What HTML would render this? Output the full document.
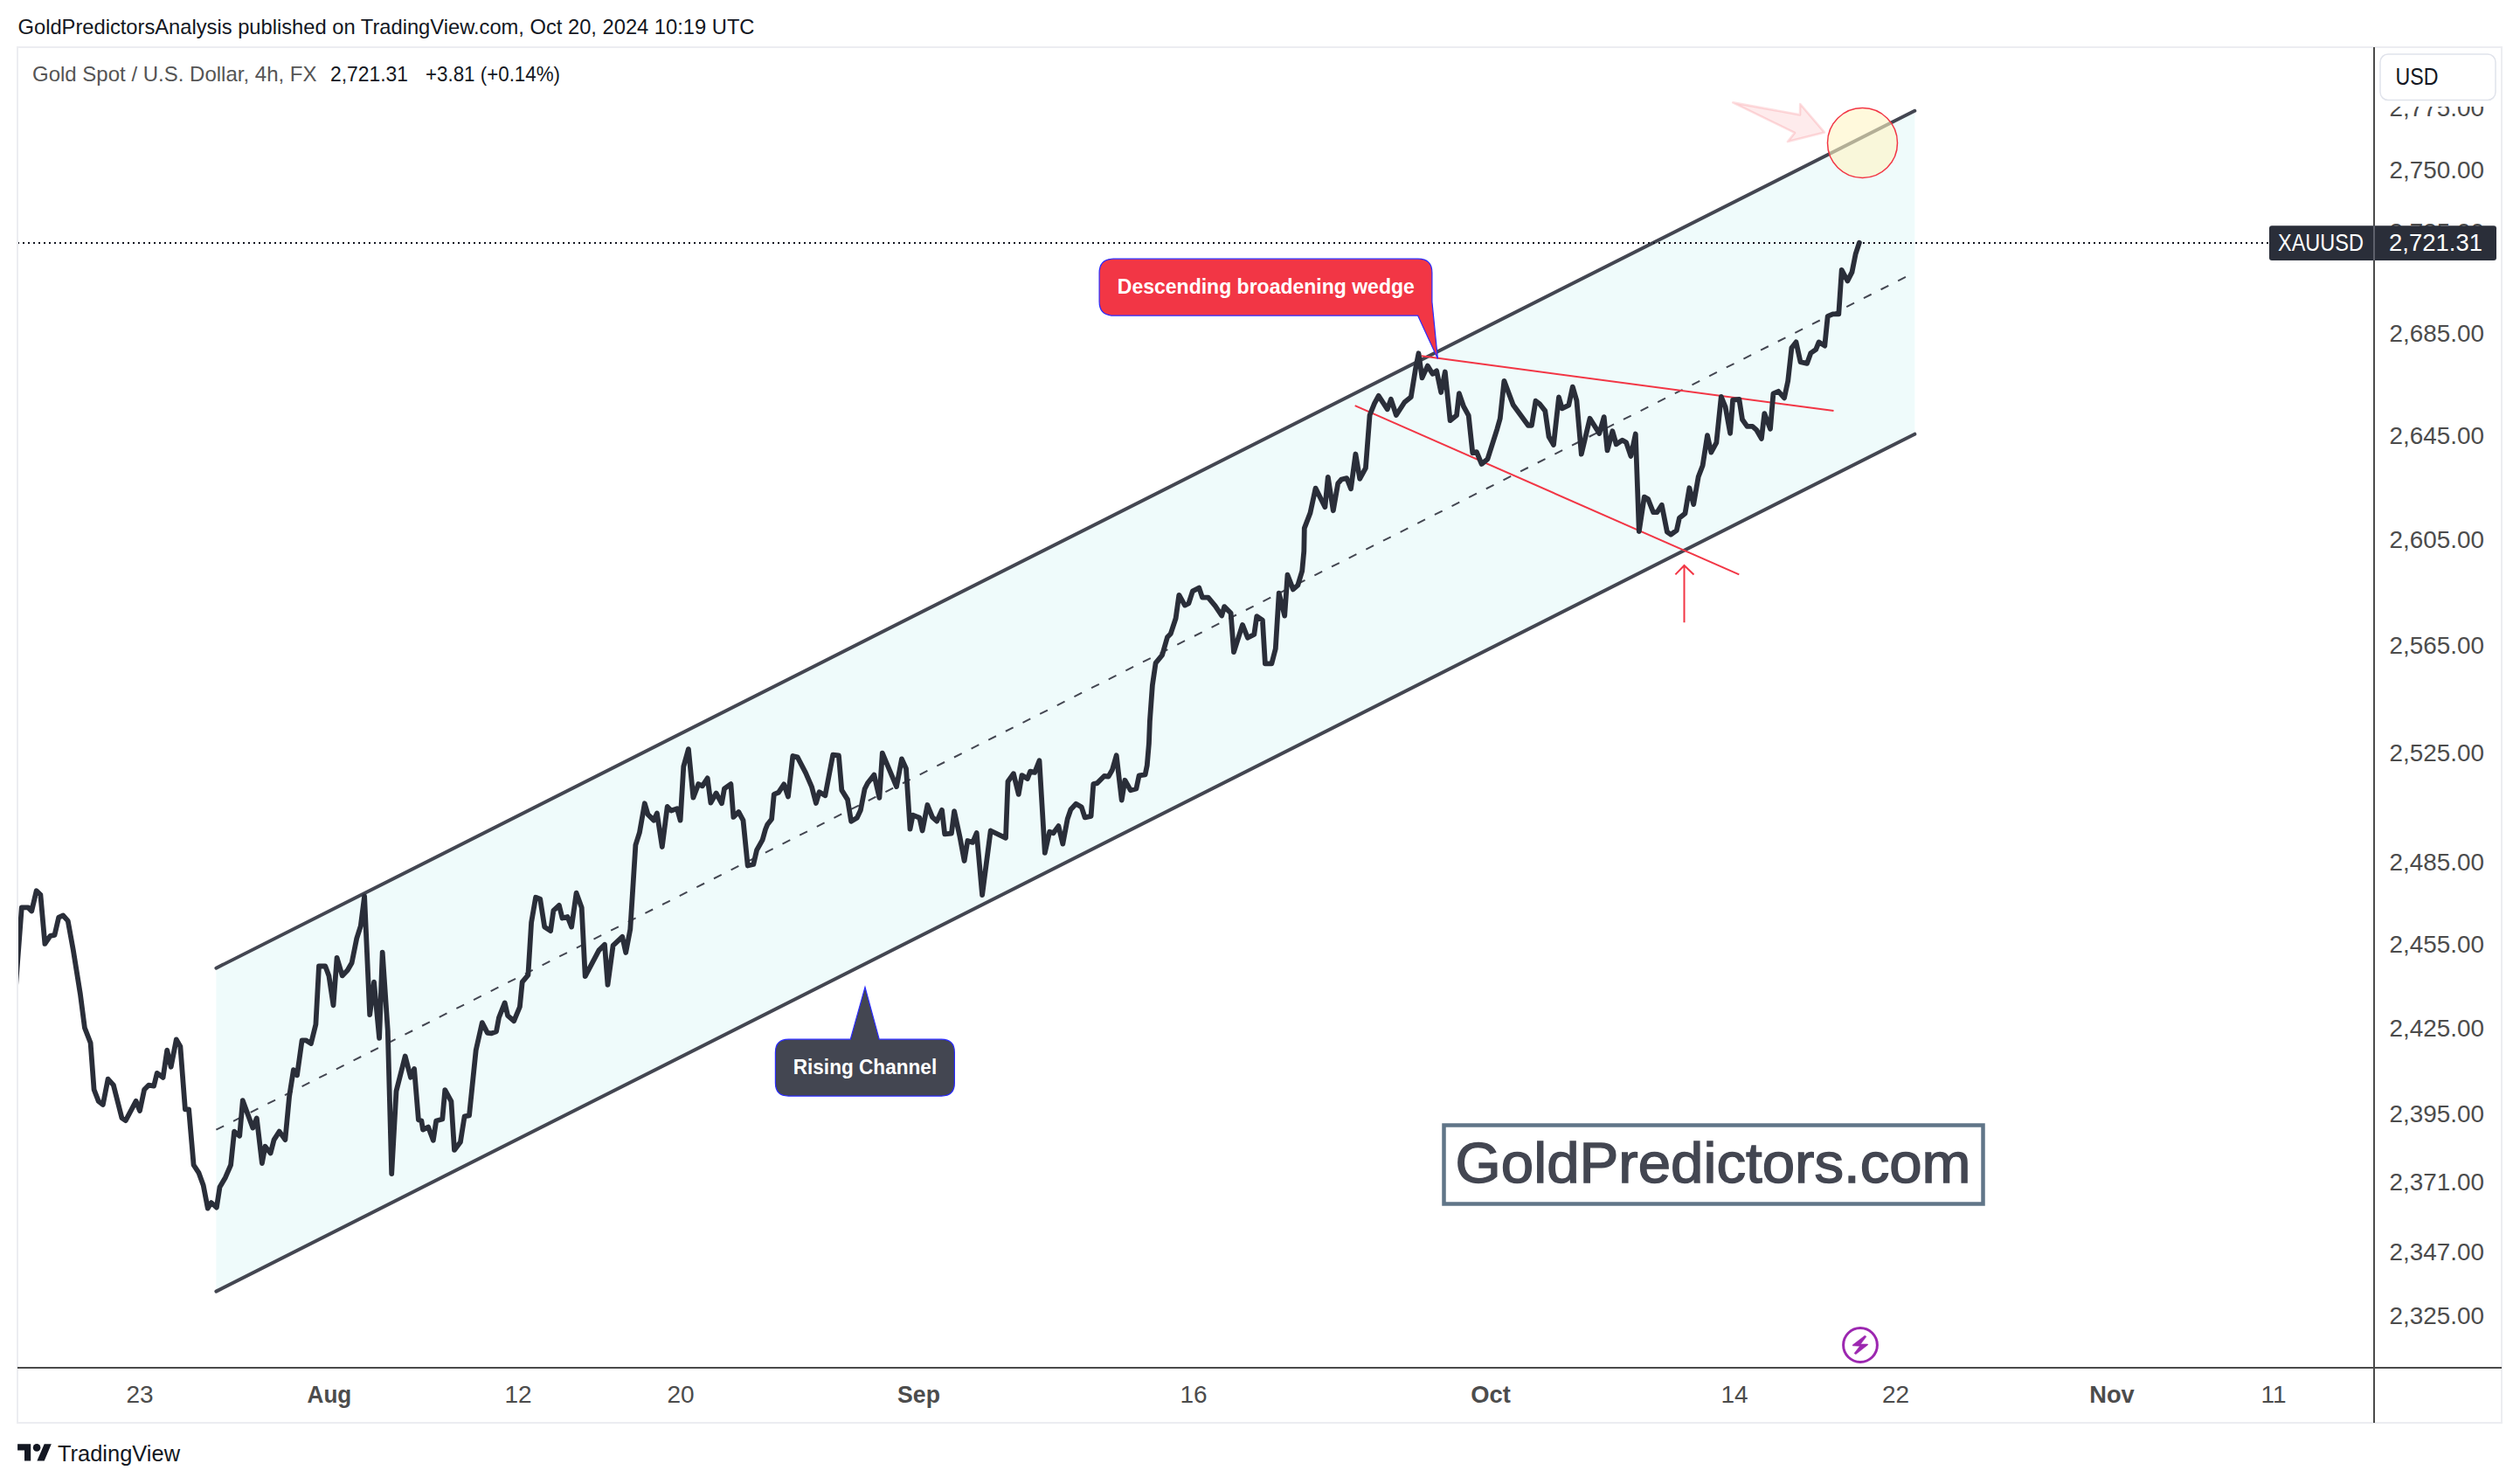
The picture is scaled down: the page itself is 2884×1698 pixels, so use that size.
<!DOCTYPE html><html><head><meta charset="utf-8"><title>XAUUSD chart</title>
<style>html,body{margin:0;padding:0;background:#fff;}svg{display:block;}text{font-family:"Liberation Sans", Arial, sans-serif;}</style></head><body>
<svg width="2884" height="1698" viewBox="0 0 2884 1698">
<rect x="0" y="0" width="2884" height="1698" fill="#ffffff"/>
<defs><clipPath id="pane"><rect x="21" y="55" width="2695" height="1509"/></clipPath><clipPath id="axc"><rect x="2718" y="122" width="144" height="1442"/></clipPath></defs>
<text x="20.5" y="39.2" font-size="24" fill="#131722" textLength="843" lengthAdjust="spacingAndGlyphs">GoldPredictorsAnalysis published on TradingView.com, Oct 20, 2024 10:19 UTC</text>
<rect x="20" y="54" width="2843" height="1574" fill="none" stroke="#ecedf1" stroke-width="2"/>
<g clip-path="url(#pane)">
<polygon points="247.4,1107.7 2191.3,126.8 2191.3,496.7 247.4,1477.6" fill="#effbfb"/>
<line x1="247.4" y1="1292.7" x2="2183.0" y2="315.9" stroke="#434651" stroke-width="2" stroke-dasharray="9.8 12.2"/>
<line x1="247.4" y1="1107.7" x2="2191.3" y2="126.8" stroke="#434651" stroke-width="4" stroke-linecap="round"/>
<line x1="247.4" y1="1477.6" x2="2191.3" y2="496.7" stroke="#434651" stroke-width="4" stroke-linecap="round"/>
<line x1="1626.7" y1="407.3" x2="2098.5" y2="470.1" stroke="#f23645" stroke-width="2"/>
<line x1="1550.7" y1="464.1" x2="1990.3" y2="657.4" stroke="#f23645" stroke-width="2"/>
<path d="M1927.5,712.2 V647 M1917.4,657.4 L1927.5,647 L1938.5,657.4" fill="none" stroke="#f23645" stroke-width="2"/>
<line x1="20" y1="278" x2="2597" y2="278" stroke="#131722" stroke-width="2" stroke-dasharray="2 4"/>
<polyline points="12.6,1200.0 24.8,1038.4 32.2,1038.4 36.2,1042.5 41.7,1019.2 46.4,1023.9 51.4,1079.9 57.5,1070.8 62.5,1069.8 67.2,1049.6 72.2,1047.5 77.7,1053.6 83.8,1087.0 91.9,1137.5 96.9,1176.0 103.6,1193.2 107.6,1246.8 112.7,1259.9 117.8,1264.0 123.6,1234.6 129.9,1241.7 139.4,1279.1 143.8,1282.2 155.6,1259.9 160.0,1271.0 165.1,1246.8 170.1,1241.7 176.1,1242.6 179.7,1227.9 186.6,1232.9 191.2,1201.6 195.7,1220.8 201.8,1189.4 206.4,1197.5 211.9,1269.3 216.1,1269.3 221.6,1333.0 227.6,1342.2 232.7,1356.3 237.8,1382.6 241.8,1376.1 247.9,1381.6 251.5,1358.3 258.0,1347.2 264.1,1333.0 268.1,1294.6 274.2,1299.7 277.8,1259.2 289.3,1290.6 293.8,1279.4 299.9,1331.0 303.5,1311.8 309.6,1319.5 313.6,1304.1 319.7,1294.6 326.4,1304.1 331.1,1254.5 335.9,1224.2 340.0,1230.3 345.6,1190.3 350.0,1190.3 356.0,1193.9 361.4,1172.1 365.0,1105.5 372.3,1105.5 376.4,1116.4 381.5,1150.3 385.6,1095.8 391.7,1116.4 397.7,1110.3 402.6,1101.8 408.2,1073.9 412.8,1059.4 417.1,1025.5 423.2,1161.2 428.0,1123.6 434.1,1187.9 437.7,1089.7 443.8,1179.4 448.2,1343.0 453.5,1248.5 463.7,1208.5 470.0,1232.7 474.1,1223.0 478.9,1281.2 482.4,1282.5 484.0,1292.6 490.1,1289.6 495.8,1304.7 499.2,1282.5 506.3,1280.5 509.3,1247.1 516.4,1260.2 520.0,1315.9 526.9,1306.8 531.6,1277.4 537.0,1276.4 544.7,1201.6 551.8,1170.2 557.9,1181.8 562.5,1182.4 568.0,1180.3 571.0,1164.2 577.7,1147.4 581.1,1162.1 588.2,1168.2 594.9,1152.0 597.7,1123.7 604.4,1115.6 608.1,1055.6 613.1,1026.8 618.2,1028.8 623.2,1060.6 630.1,1065.2 633.4,1041.9 639.9,1035.9 643.5,1050.5 649.5,1049.0 654.1,1060.6 659.6,1021.7 665.7,1038.4 669.7,1117.2 685.4,1087.4 692.0,1080.9 695.5,1126.8 701.6,1081.9 712.2,1071.8 716.2,1090.0 721.3,1063.2 727.4,966.8 731.9,952.7 737.8,919.3 741.5,931.9 748.2,938.6 751.9,930.5 757.8,969.0 763.7,923.0 768.2,927.5 774.9,925.3 778.6,938.6 782.3,877.1 787.9,857.1 793.4,912.7 799.3,897.1 803.8,899.3 809.7,890.4 813.4,918.6 819.6,907.5 826.0,919.3 829.0,902.3 836.4,897.1 839.4,934.9 845.3,929.0 850.5,938.6 855.7,990.5 862.3,989.0 866.1,972.7 872.7,960.8 876.0,949.0 878.4,943.2 883.1,937.2 885.8,908.9 890.9,906.8 897.2,897.4 902.0,911.5 907.3,865.0 912.7,866.4 922.2,884.6 928.9,900.1 933.9,919.0 937.7,906.2 944.4,910.2 953.2,863.7 959.9,864.4 963.3,904.1 970.0,914.9 974.1,939.9 980.8,935.8 984.9,927.0 989.6,902.8 993.0,896.0 1000.4,886.6 1006.4,912.9 1009.8,861.7 1026.0,900.1 1032.0,868.4 1037.0,879.4 1041.5,948.6 1044.7,932.6 1052.4,935.8 1055.6,950.5 1061.4,921.0 1067.1,935.1 1072.2,939.6 1078.0,926.8 1081.2,954.3 1088.9,953.7 1092.1,928.1 1098.5,957.5 1103.6,985.0 1107.4,962.0 1113.2,963.9 1117.7,953.0 1124.1,1024.1 1133.7,950.5 1151.0,958.8 1153.5,894.2 1159.9,885.2 1165.7,908.9 1169.5,887.1 1175.9,891.0 1179.1,882.6 1184.2,883.9 1189.5,870.3 1195.8,975.8 1201.2,951.6 1205.5,953.2 1211.4,945.1 1216.3,965.6 1221.7,937.0 1225.4,926.3 1231.4,919.8 1237.8,923.6 1241.6,935.4 1248.6,933.8 1251.3,897.1 1255.6,896.1 1263.7,888.0 1268.6,888.5 1272.9,881.0 1277.7,864.3 1283.7,915.5 1287.4,892.8 1293.9,904.2 1300.4,902.5 1303.6,887.4 1310.6,886.4 1312.8,875.6 1314.9,850.8 1315.9,825.3 1318.9,783.8 1322.6,758.6 1330.0,749.7 1336.0,729.0 1339.7,725.3 1345.6,707.5 1349.3,680.8 1356.0,692.6 1360.4,690.4 1364.9,676.3 1372.3,672.6 1376.0,683.7 1382.7,683.7 1390.8,693.4 1398.2,704.5 1401.2,694.1 1408.6,701.5 1412.0,746.0 1422.0,714.9 1427.9,729.7 1435.3,726.0 1438.3,705.2 1444.9,709.7 1447.9,759.4 1455.3,759.4 1459.8,742.3 1463.7,678.7 1470.2,704.6 1473.5,657.7 1479.9,674.4 1485.3,669.6 1490.2,653.4 1492.3,630.8 1492.8,604.4 1499.5,586.9 1505.6,558.6 1516.4,580.2 1519.8,545.8 1525.8,584.2 1531.2,553.2 1535.3,548.5 1541.3,547.2 1546.0,559.3 1551.4,519.5 1556.2,547.8 1562.9,535.7 1567.6,475.0 1573.0,461.6 1577.7,452.8 1587.8,468.3 1591.9,456.8 1597.9,475.0 1607.4,460.2 1614.8,454.2 1620.0,422.1 1623.5,404.3 1627.5,432.4 1633.8,418.6 1639.5,427.8 1644.1,424.4 1649.2,449.0 1653.8,425.5 1659.6,481.1 1667.0,475.3 1669.9,450.1 1675.0,465.0 1680.7,475.3 1685.3,518.3 1689.9,517.1 1695.6,530.9 1702.5,525.2 1713.4,490.8 1716.8,478.8 1721.4,435.8 1731.7,463.3 1748.9,486.8 1752.9,486.8 1757.5,458.7 1761.9,462.0 1768.3,470.1 1772.6,499.8 1778.0,508.9 1784.0,454.5 1787.7,467.4 1795.3,463.7 1799.8,442.6 1804.4,458.3 1809.8,519.7 1819.5,478.8 1830.3,496.0 1835.7,477.1 1839.5,515.4 1845.4,493.3 1849.7,508.4 1856.7,503.6 1861.1,506.3 1866.4,521.9 1871.8,496.5 1875.8,608.0 1881.8,568.6 1886.1,571.0 1892.1,586.2 1896.4,586.2 1901.8,577.7 1907.9,608.6 1912.2,611.6 1918.8,606.8 1921.9,592.8 1928.5,587.4 1933.4,558.3 1938.2,577.1 1943.7,545.5 1948.6,532.8 1954.0,498.2 1958.3,517.6 1964.3,506.7 1969.8,453.9 1974.6,465.5 1980.1,495.8 1983.1,457.6 1990.4,457.0 1994.0,480.0 1999.5,487.9 2005.6,487.9 2010.4,492.2 2015.9,501.9 2019.3,473.1 2026.0,490.8 2029.4,450.4 2035.3,447.8 2042.0,455.4 2046.2,436.0 2050.4,398.1 2055.5,391.4 2060.5,414.1 2068.1,415.8 2072.3,404.0 2078.2,399.8 2081.6,391.4 2088.3,395.6 2091.7,361.9 2097.6,359.4 2104.3,359.4 2107.7,308.9 2114.4,321.5 2119.5,311.4 2123.7,290.3 2127.9,277.7" fill="none" stroke="#2a2e39" stroke-width="5.8" stroke-linejoin="round" stroke-linecap="round"/>
<path d="M1983.3,117.4 L2060,131.4 L2060.2,119 L2087.9,151.4 L2046,162.1 L2054,151.9 Z" fill="rgba(242,54,69,0.10)" stroke="rgba(242,54,69,0.16)" stroke-width="2.6" stroke-linejoin="round"/>
<circle cx="2131.5" cy="163.5" r="40" fill="rgba(255,245,197,0.6)" stroke="#f23645" stroke-width="1.5"/>
<path d="M1274.1,296.2 H1622.9 Q1638.9,296.2 1638.9,312.2 V345.3 L1645.4,410.4 L1622.6,361.1 H1274.1 Q1258.1,361.1 1258.1,345.1 V312.2 Q1258.1,296.2 1274.1,296.2 Z" fill="#f23645" stroke="#2a2aff" stroke-width="1.2"/>
<text x="1278.8" y="336.4" font-size="24" font-weight="bold" fill="#ffffff" textLength="340" lengthAdjust="spacingAndGlyphs">Descending broadening wedge</text>
<path d="M902.4,1189.2 H973.3 L990,1129.6 L1006.2,1189.2 H1077.4 Q1092.4,1189.2 1092.4,1204.2 V1239.1 Q1092.4,1254.1 1077.4,1254.1 H902.4 Q887.4,1254.1 887.4,1239.1 V1204.2 Q887.4,1189.2 902.4,1189.2 Z" fill="#434651" stroke="#2a2aff" stroke-width="1.2"/>
<text x="907.7" y="1229.2" font-size="24" font-weight="bold" fill="#ffffff" textLength="164.5" lengthAdjust="spacingAndGlyphs">Rising Channel</text>
<rect x="1652.5" y="1287.5" width="617" height="90" fill="#ffffff" stroke="#607588" stroke-width="4.5"/>
<text x="1665.6" y="1353.3" font-size="64" fill="#434651" stroke="#434651" stroke-width="1.4" textLength="590" lengthAdjust="spacingAndGlyphs">GoldPredictors.com</text>
<circle cx="2129" cy="1539" r="19.4" fill="#ffffff" stroke="#9c27b0" stroke-width="3"/>
<path d="M2134.2,1528.2 L2135.9,1529.3 L2129.3,1538.0 L2137.5,1538.0 L2137.7,1538.7 L2123.9,1549.6 L2122.1,1548.5 L2128.5,1540.2 L2120.4,1539.8 L2120.1,1539.1 Z" fill="#9c27b0" stroke="#9c27b0" stroke-width="0.6" stroke-linejoin="round"/>
</g>
<line x1="20" y1="1565" x2="2863" y2="1565" stroke="#4a4a4a" stroke-width="2"/>
<line x1="2717" y1="54" x2="2717" y2="1628" stroke="#4a4a4a" stroke-width="2"/>
<g clip-path="url(#axc)">
<text x="2843" y="133.2" font-size="28" fill="#4c4c4c" text-anchor="end" textLength="108.5" lengthAdjust="spacingAndGlyphs">2,775.00</text>
<text x="2843" y="203.9" font-size="28" fill="#4c4c4c" text-anchor="end" textLength="108.5" lengthAdjust="spacingAndGlyphs">2,750.00</text>
<text x="2843" y="275.2" font-size="28" fill="#4c4c4c" text-anchor="end" textLength="108.5" lengthAdjust="spacingAndGlyphs">2,725.00</text>
<text x="2843" y="390.8" font-size="28" fill="#4c4c4c" text-anchor="end" textLength="108.5" lengthAdjust="spacingAndGlyphs">2,685.00</text>
<text x="2843" y="508.0" font-size="28" fill="#4c4c4c" text-anchor="end" textLength="108.5" lengthAdjust="spacingAndGlyphs">2,645.00</text>
<text x="2843" y="627.1" font-size="28" fill="#4c4c4c" text-anchor="end" textLength="108.5" lengthAdjust="spacingAndGlyphs">2,605.00</text>
<text x="2843" y="747.9" font-size="28" fill="#4c4c4c" text-anchor="end" textLength="108.5" lengthAdjust="spacingAndGlyphs">2,565.00</text>
<text x="2843" y="870.7" font-size="28" fill="#4c4c4c" text-anchor="end" textLength="108.5" lengthAdjust="spacingAndGlyphs">2,525.00</text>
<text x="2843" y="995.5" font-size="28" fill="#4c4c4c" text-anchor="end" textLength="108.5" lengthAdjust="spacingAndGlyphs">2,485.00</text>
<text x="2843" y="1090.4" font-size="28" fill="#4c4c4c" text-anchor="end" textLength="108.5" lengthAdjust="spacingAndGlyphs">2,455.00</text>
<text x="2843" y="1186.4" font-size="28" fill="#4c4c4c" text-anchor="end" textLength="108.5" lengthAdjust="spacingAndGlyphs">2,425.00</text>
<text x="2843" y="1283.7" font-size="28" fill="#4c4c4c" text-anchor="end" textLength="108.5" lengthAdjust="spacingAndGlyphs">2,395.00</text>
<text x="2843" y="1362.3" font-size="28" fill="#4c4c4c" text-anchor="end" textLength="108.5" lengthAdjust="spacingAndGlyphs">2,371.00</text>
<text x="2843" y="1441.8" font-size="28" fill="#4c4c4c" text-anchor="end" textLength="108.5" lengthAdjust="spacingAndGlyphs">2,347.00</text>
<text x="2843" y="1515.4" font-size="28" fill="#4c4c4c" text-anchor="end" textLength="108.5" lengthAdjust="spacingAndGlyphs">2,325.00</text>
</g>
<rect x="2724" y="62" width="132" height="52.5" rx="9" fill="#ffffff" stroke="#e0e3eb" stroke-width="1.5"/>
<text x="2741.5" y="97" font-size="27" fill="#131722" textLength="49" lengthAdjust="spacingAndGlyphs">USD</text>
<rect x="2597" y="258.2" width="260" height="39.7" rx="3" fill="#2a2e39"/>
<line x1="2717" y1="258.2" x2="2717" y2="297.9" stroke="#5d606b" stroke-width="2"/>
<text x="2607" y="287.4" font-size="27" fill="#ffffff" textLength="98" lengthAdjust="spacingAndGlyphs">XAUUSD</text>
<text x="2734" y="287.4" font-size="27" fill="#ffffff" textLength="107" lengthAdjust="spacingAndGlyphs">2,721.31</text>
<text x="160.0" y="1605" font-size="28" fill="#4c4c4c" text-anchor="middle">23</text>
<text x="376.9" y="1605" font-size="28" fill="#4c4c4c" text-anchor="middle" font-weight="bold" textLength="50.7" lengthAdjust="spacingAndGlyphs">Aug</text>
<text x="593.0" y="1605" font-size="28" fill="#4c4c4c" text-anchor="middle">12</text>
<text x="779.0" y="1605" font-size="28" fill="#4c4c4c" text-anchor="middle">20</text>
<text x="1051.5" y="1605" font-size="28" fill="#4c4c4c" text-anchor="middle" font-weight="bold" textLength="48.8" lengthAdjust="spacingAndGlyphs">Sep</text>
<text x="1366.0" y="1605" font-size="28" fill="#4c4c4c" text-anchor="middle">16</text>
<text x="1706.0" y="1605" font-size="28" fill="#4c4c4c" text-anchor="middle" font-weight="bold" textLength="45.6" lengthAdjust="spacingAndGlyphs">Oct</text>
<text x="1985.0" y="1605" font-size="28" fill="#4c4c4c" text-anchor="middle">14</text>
<text x="2169.5" y="1605" font-size="28" fill="#4c4c4c" text-anchor="middle">22</text>
<text x="2417.0" y="1605" font-size="28" fill="#4c4c4c" text-anchor="middle" font-weight="bold" textLength="51.5" lengthAdjust="spacingAndGlyphs">Nov</text>
<text x="2602.0" y="1605" font-size="28" fill="#4c4c4c" text-anchor="middle">11</text>
<text x="37" y="93" font-size="24" fill="#555555" textLength="325.5" lengthAdjust="spacingAndGlyphs">Gold Spot / U.S. Dollar, 4h, FX</text>
<text x="378" y="93" font-size="24" fill="#131722" textLength="89" lengthAdjust="spacingAndGlyphs">2,721.31</text>
<text x="487" y="93" font-size="24" fill="#131722" textLength="154" lengthAdjust="spacingAndGlyphs">+3.81 (+0.14%)</text>
<path d="M20.1,1652.3 H35.2 V1671.4 H28 V1659.5 H20.1 Z" fill="#131722"/>
<circle cx="42.1" cy="1656.4" r="4.3" fill="#131722"/>
<path d="M50.7,1652.3 H58.8 L50.7,1671.4 H42.4 Z" fill="#131722"/>
<text x="66" y="1672" font-size="26.5" fill="#131722" textLength="140" lengthAdjust="spacingAndGlyphs">TradingView</text>
</svg></body></html>
